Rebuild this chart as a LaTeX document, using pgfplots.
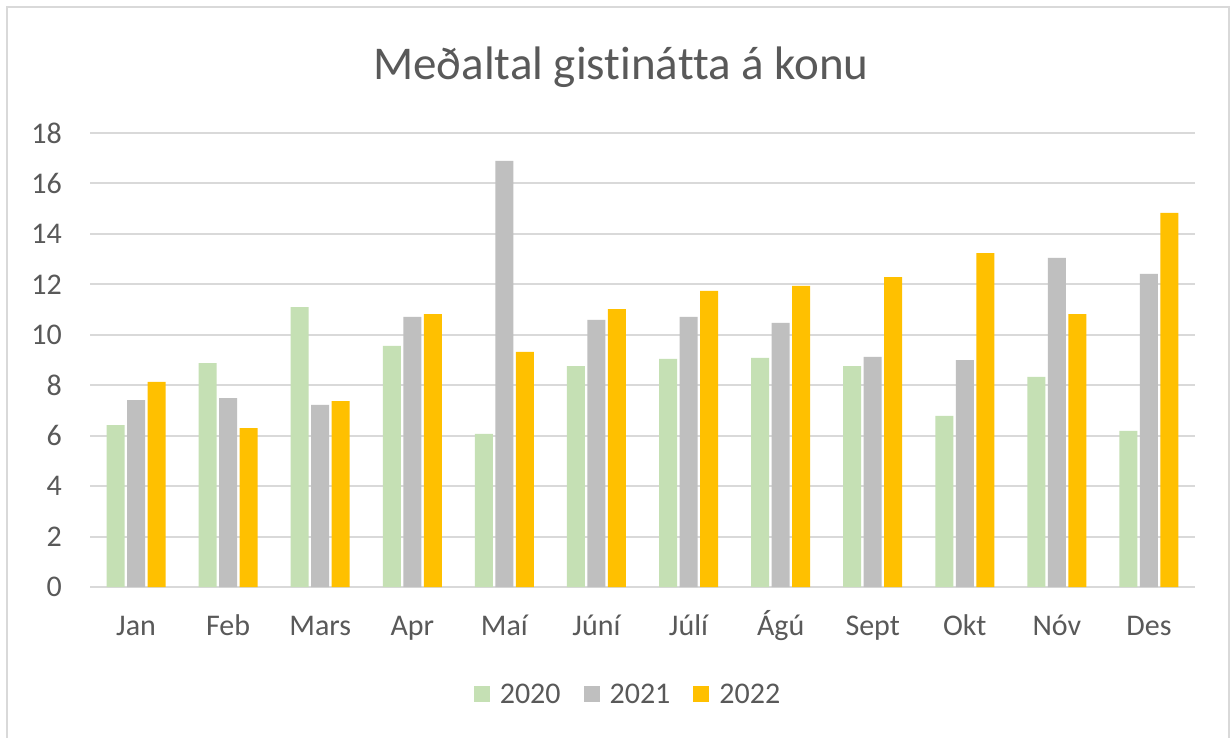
\documentclass[border=0pt]{standalone}
\usepackage{pgfplots}
\pgfplotsset{compat=1.18}
\usepackage{fontspec}
\setmainfont{Carlito}[Ligatures={NoCommon}]
\definecolor{g20}{HTML}{C5E0B4}
\definecolor{g21}{HTML}{BFBFBF}
\definecolor{g22}{HTML}{FFC000}
\definecolor{txt}{HTML}{595959}
\definecolor{grd}{HTML}{D9D9D9}
\begin{document}
\begin{tikzpicture}
\useasboundingbox (0pt,0pt) rectangle (1231pt,-738pt);
\fill[white] (0pt,0pt) rectangle (1231pt,-738pt);
\draw[grd, line width=2pt] (7pt,-738pt) -- (7pt,-7pt) -- (1229pt,-7pt) -- (1229pt,-738pt);
\node[anchor=base, text=txt, font=\fontsize{47pt}{56pt}\selectfont, inner sep=0pt] at (621pt,-80pt) {Meðaltal gistinátta á konu};
\begin{axis}[
 at={(90pt,-587pt)}, anchor=south west,
 scale only axis, width=1105pt, height=454pt,
 ybar, bar width=18pt,
 xmin=-0.5, xmax=11.5, ymin=0, ymax=18,
 xtick={0,...,11}, xticklabels={Jan,Feb,Mars,Apr,Maí,Júní,Júlí,Ágú,Sept,Okt,Nóv,Des},
 ytick={0,2,...,18},
 ymajorgrids, grid style={grd, line width=2pt},
 axis line style={draw=none},
 major tick length=0pt,
 tick label style={font=\fontsize{30pt}{36pt}\selectfont, text=txt, inner sep=0pt},
 xticklabel style={anchor=base, yshift=-48pt},
 yticklabel style={anchor=east, xshift=-28pt},
 /pgf/number format/assume math mode=true,
 legend columns=3,
 legend style={at={(0.486,-0.236)}, anchor=center, draw=none, fill=none,
   font=\fontsize{30pt}{36pt}\selectfont, text=txt,
   nodes={inner sep=0pt},
   /tikz/every even column/.append style={column sep=23pt}},
 legend image code/.code={\fill[#1, draw=none] (0pt,-8pt) rectangle (16pt,8pt);},
]
\addplot[fill=g20, draw=none, bar shift=-20.5pt] coordinates {
 (0,6.42) (1,8.88) (2,11.10) (3,9.56) (4,6.07) (5,8.76) (6,9.04) (7,9.08) (8,8.76) (9,6.78) (10,8.33) (11,6.19)};
\addplot[fill=g21, draw=none, bar shift=0pt] coordinates {
 (0,7.41) (1,7.49) (2,7.22) (3,10.71) (4,16.89) (5,10.59) (6,10.71) (7,10.47) (8,9.12) (9,9.00) (10,13.05) (11,12.41)};
\addplot[fill=g22, draw=none, bar shift=20.5pt] coordinates {
 (0,8.13) (1,6.30) (2,7.37) (3,10.82) (4,9.32) (5,11.02) (6,11.74) (7,11.94) (8,12.29) (9,13.24) (10,10.82) (11,14.83)};
\legend{\hspace{10pt}2020,\hspace{10pt}2021,\hspace{10pt}2022}
\end{axis}
\end{tikzpicture}
\end{document}
